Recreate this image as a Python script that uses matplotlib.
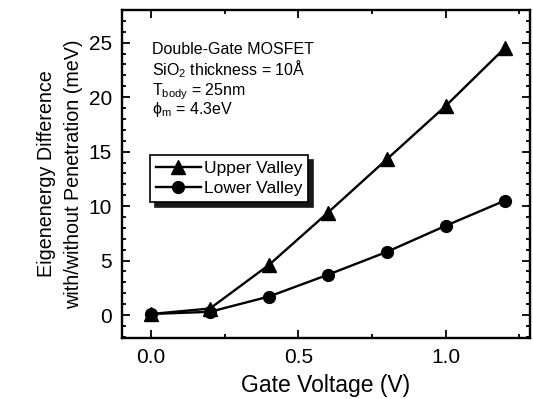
import matplotlib.pyplot as plt
from matplotlib.ticker import MultipleLocator

plt.rcParams['font.family'] = ['Liberation Sans', 'DejaVu Sans']
plt.rcParams.update({'mathtext.fontset': 'custom',
                     'mathtext.rm': 'Liberation Sans'})

# Data
gate_voltage = [0.0, 0.2, 0.4, 0.6, 0.8, 1.0, 1.2]
upper_valley = [0.1, 0.6, 4.6, 9.4, 14.3, 19.2, 24.5]
lower_valley = [0.1, 0.3, 1.7, 3.7, 5.8, 8.2, 10.5]

info_lines = [
    'Double-Gate MOSFET',
    'SiO$_{\\mathrm{2}}$ thickness = 10Å',
    'T$_{\\mathrm{body}}$ = 25nm',
    'ϕ$_{\\mathrm{m}}$ = 4.3eV',
]
info_y = [0.866, 0.802, 0.741, 0.682]

fig = plt.figure(figsize=(5.33, 3.99), dpi=100)
ax = fig.add_axes([0.228, 0.153, 0.766, 0.822])

ax.plot(gate_voltage, upper_valley, '-^', color='black', lw=1.7, ms=10,
        label='Upper Valley')
ax.plot(gate_voltage, lower_valley, '-o', color='black', lw=1.7, ms=8.5,
        label='Lower Valley')

ax.set_xlim(-0.1, 1.285)
ax.set_ylim(-2.1, 28.0)
ax.set_xticks([0.0, 0.5, 1.0])
ax.set_xticklabels(['0.0', '0.5', '1.0'])
ax.xaxis.set_minor_locator(MultipleLocator(0.25))
ax.yaxis.set_major_locator(MultipleLocator(5))
ax.yaxis.set_minor_locator(MultipleLocator(1))
ax.tick_params(which='both', direction='in', top=True, right=True,
               labelsize=15, width=1.3)
ax.tick_params(which='major', length=6, pad=7)
ax.tick_params(which='minor', length=3)
for sp in ax.spines.values():
    sp.set_linewidth(1.7)

ax.set_xlabel('Gate Voltage (V)', fontsize=16.5, labelpad=5)
ax.set_ylabel('Eigenenergy Difference\nwith/without Penetration (meV)',
              fontsize=14.2, labelpad=4, linespacing=1.5)

for line, y in zip(info_lines, info_y):
    ax.text(0.074, y, line, transform=ax.transAxes, fontsize=11.5,
            va='baseline', ha='left')

leg = ax.legend(loc='upper left', bbox_to_anchor=(0.069, 0.558),
                fontsize=12.5, frameon=True, fancybox=False,
                shadow={'ox': 3.5, 'oy': -3.5, 'color': '0.1', 'alpha': 1.0},
                framealpha=1.0, handlelength=2.6, handletextpad=0.15,
                borderpad=0.35, labelspacing=0.25, borderaxespad=0)
leg.get_frame().set_edgecolor('black')
leg.get_frame().set_linewidth(1.2)

fig.savefig('out.png', dpi=100)
